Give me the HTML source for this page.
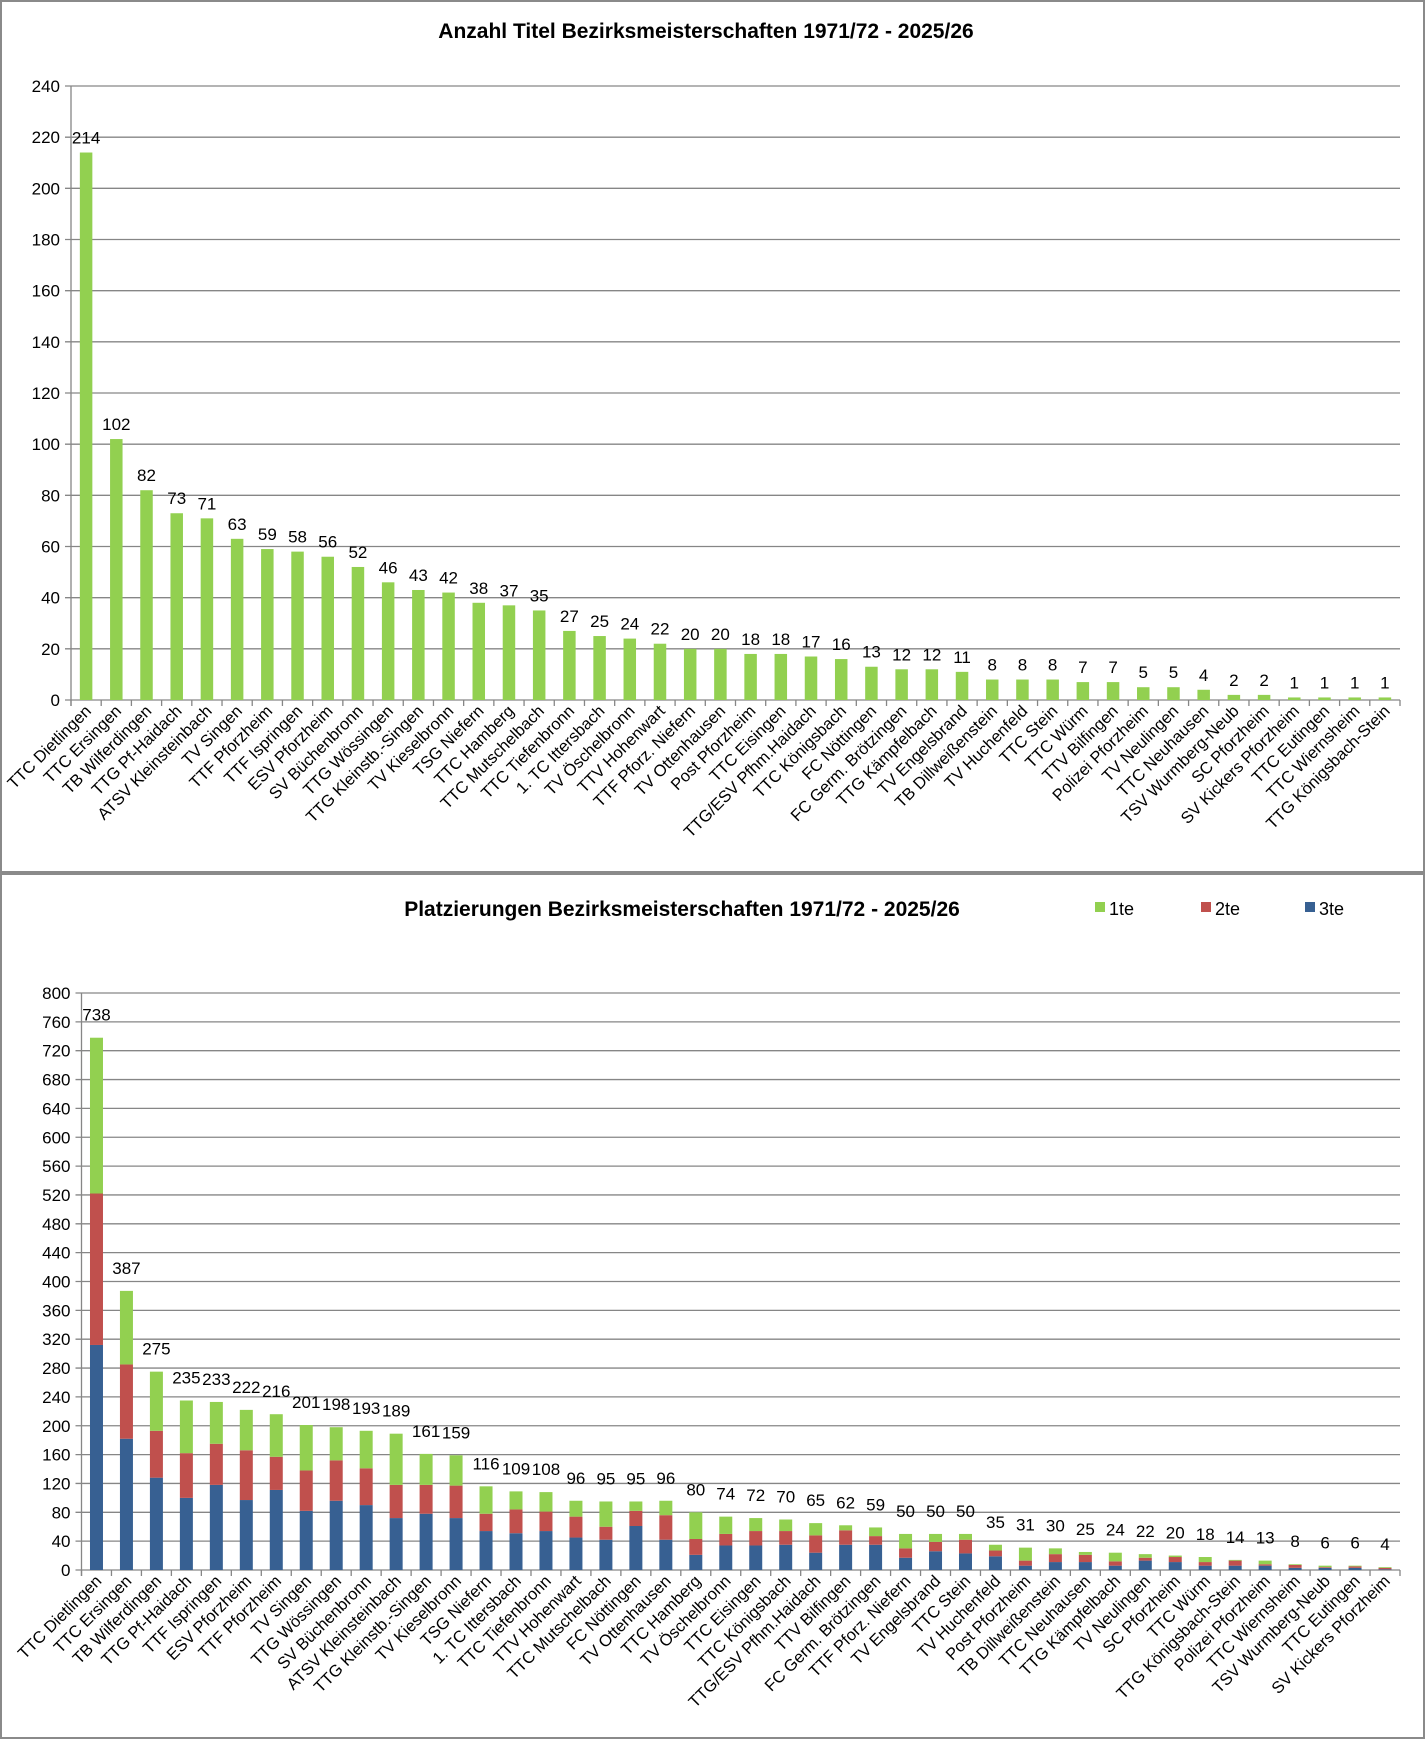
<!DOCTYPE html>
<html><head><meta charset="utf-8">
<style>
html,body{margin:0;padding:0;background:#fff;}
svg{display:block;font-family:"Liberation Sans",Arial,sans-serif;}
</style></head>
<body>
<svg id="svg" width="1425" height="1739" viewBox="0 0 1425 1739">
<rect x="1" y="1" width="1423" height="871" fill="#fff" stroke="#8a8a8a" stroke-width="2"/>
<rect x="1" y="874" width="1423" height="864" fill="#fff" stroke="#8a8a8a" stroke-width="2"/>
<text x="706" y="38" text-anchor="middle" font-size="21" font-weight="bold">Anzahl Titel Bezirksmeisterschaften 1971/72 - 2025/26</text>
<text x="682" y="916" text-anchor="middle" font-size="21" font-weight="bold">Platzierungen Bezirksmeisterschaften 1971/72 - 2025/26</text>
<g>
<rect x="1095" y="902" width="10" height="10" fill="#92d050"/>
<text x="1109" y="915" font-size="18">1te</text>
<rect x="1201" y="902" width="10" height="10" fill="#c0504d"/>
<text x="1215" y="915" font-size="18">2te</text>
<rect x="1305" y="902" width="10" height="10" fill="#376092"/>
<text x="1319" y="915" font-size="18">3te</text>
</g>
<g id="top"></g>
<g id="bot"></g>
</svg>
<script>
const topCategories = ["TTC Dietlingen","TTC Ersingen","TB Wilferdingen","TTG Pf-Haidach","ATSV Kleinsteinbach","TV Singen","TTF Pforzheim","TTF Ispringen","ESV Pforzheim","SV Büchenbronn","TTG Wössingen","TTG Kleinstb.-Singen","TV Kieselbronn","TSG Niefern","TTC Hamberg","TTC Mutschelbach","TTC Tiefenbronn","1. TC Ittersbach","TV Öschelbronn","TTV Hohenwart","TTF Pforz. Niefern","TV Ottenhausen","Post Pforzheim","TTC Eisingen","TTG/ESV Pfhm.Haidach","TTC Königsbach","FC Nöttingen","FC Germ. Brötzingen","TTG Kämpfelbach","TV Engelsbrand","TB Dillweißenstein","TV Huchenfeld","TTC Stein","TTC Würm","TTV Bilfingen","Polizei Pforzheim","TV Neulingen","TTC Neuhausen","TSV Wurmberg-Neub","SC Pforzheim","SV Kickers Pforzheim","TTC Eutingen","TTC Wiernsheim","TTG Königsbach-Stein"];
const topValues = [214,102,82,73,71,63,59,58,56,52,46,43,42,38,37,35,27,25,24,22,20,20,18,18,17,16,13,12,12,11,8,8,8,7,7,5,5,4,2,2,1,1,1,1];
const topTicks = [0,20,40,60,80,100,120,140,160,180,200,220,240];

const botCategories = ["TTC Dietlingen","TTC Ersingen","TB Wilferdingen","TTG Pf-Haidach","TTF Ispringen","ESV Pforzheim","TTF Pforzheim","TV Singen","TTG Wössingen","SV Büchenbronn","ATSV Kleinsteinbach","TTG Kleinstb.-Singen","TV Kieselbronn","TSG Niefern","1. TC Ittersbach","TTC Tiefenbronn","TTV Hohenwart","TTC Mutschelbach","FC Nöttingen","TV Ottenhausen","TTC Hamberg","TV Öschelbronn","TTC Eisingen","TTC Königsbach","TTG/ESV Pfhm.Haidach","TTV Bilfingen","FC Germ. Brötzingen","TTF Pforz. Niefern","TV Engelsbrand","TTC Stein","TV Huchenfeld","Post Pforzheim","TB Dillweißenstein","TTC Neuhausen","TTG Kämpfelbach","TV Neulingen","SC Pforzheim","TTC Würm","TTG Königsbach-Stein","Polizei Pforzheim","TTC Wiernsheim","TSV Wurmberg-Neub","TTC Eutingen","SV Kickers Pforzheim"];
const third = [312,182,128,100,118,97,111,82,96,90,72,78,72,54,51,54,45,42,61,42,21,34,34,35,24,35,35,17,26,23,19,6,11,11,6,13,11,6,6,6,3,3,3,1];
const second = [210,103,65,62,57,69,46,56,56,51,46,40,45,24,33,27,29,18,21,34,22,16,20,19,24,20,12,13,13,19,8,7,11,10,6,4,7,5,7,2,4,1,2,2];
const first = [216,102,82,73,58,56,59,63,46,52,71,43,42,38,25,27,22,35,13,20,37,24,18,16,17,7,12,20,11,8,8,18,8,4,12,5,2,7,1,5,1,2,1,1];
const totals = [738,387,275,235,233,222,216,201,198,193,189,161,159,116,109,108,96,95,95,96,80,74,72,70,65,62,59,50,50,50,35,31,30,25,24,22,20,18,14,13,8,6,6,4];
const botTicks = [0,40,80,120,160,200,240,280,320,360,400,440,480,520,560,600,640,680,720,760,800];

const NS="http://www.w3.org/2000/svg";
function mk(parent,tag,attrs,text){const e=document.createElementNS(NS,tag);for(const k in attrs)e.setAttribute(k,attrs[k]);if(text!==undefined)e.textContent=text;parent.appendChild(e);return e;}

function axes(g,x0,x1,yTop,y0,max,ticks,n,prefix){
  const yS=v=>y0-(v/max)*(y0-yTop);
  ticks.forEach(t=>{
    const l=mk(g,'line',{x1:x0-6,x2:x1,y1:yS(t),y2:yS(t),stroke:'#868686','stroke-width':1.3});
    
    
    const tx=mk(g,'text',{x:x0-11,y:yS(t)+6,'text-anchor':'end','font-size':17},String(t));
    
    
  });
  const ya=mk(g,'line',{x1:x0,x2:x0,y1:yTop,y2:y0+6,stroke:'#868686','stroke-width':1.3});
  
  
  const step=(x1-x0)/n;
  for(let i=0;i<=n;i++){
    const tk=mk(g,'line',{x1:x0+i*step,x2:x0+i*step,y1:y0,y2:y0+6,stroke:'#868686','stroke-width':1.3});
    
    
  }
  return {yS,step};
}
function catLabels(g,cats,x0,step,y0,prefix){
  cats.forEach((c,i)=>{
    const cx=x0+(i+0.5)*step+6, cy=y0+12;
    const t=mk(g,'text',{x:cx,y:cy,'text-anchor':'end','font-size':16.5,transform:`rotate(-45 ${cx} ${cy})`},c);
    
    
  });
}

// Top chart
(function(){
  const g=document.getElementById('top');
  const x0=71,x1=1400,yTop=86,y0=700;
  const a=axes(g,x0,x1,yTop,y0,240,topTicks,topValues.length,'top');
  topValues.forEach((v,i)=>{
    const cx=x0+(i+0.5)*a.step, w=12.5;
    const r=mk(g,'rect',{x:cx-w/2,y:a.yS(v),width:w,height:y0-a.yS(v),fill:'#92d050'});
    
    
    const t=mk(g,'text',{x:cx,y:a.yS(v)-9,'text-anchor':'middle','font-size':17},String(v));
    
    
  });
  catLabels(g,topCategories,x0,a.step,y0,'top');
})();

// Bottom chart
(function(){
  const g=document.getElementById('bot');
  const x0=81.5,x1=1400,yTop=993,y0=1570;
  const a=axes(g,x0,x1,yTop,y0,800,botTicks,botCategories.length,'bottom');
  botCategories.forEach((c,i)=>{
    const cx=x0+(i+0.5)*a.step, w=13;
    let base=0;
    [[third[i],'#376092','bar-3te'],[second[i],'#c0504d','bar-2te'],[first[i],'#92d050','bar-1te']].forEach(([v,col,nm])=>{
      const r=mk(g,'rect',{x:cx-w/2,y:a.yS(base+v),width:w,height:a.yS(base)-a.yS(base+v),fill:col});
      
      
      base+=v;
    });
    const t=mk(g,'text',{x:cx,y:a.yS(totals[i])-17,'text-anchor':'middle','font-size':17},String(totals[i]));
    
    
  });
  catLabels(g,botCategories,x0,a.step,y0,'bottom');
})();
</script>
</body></html>
